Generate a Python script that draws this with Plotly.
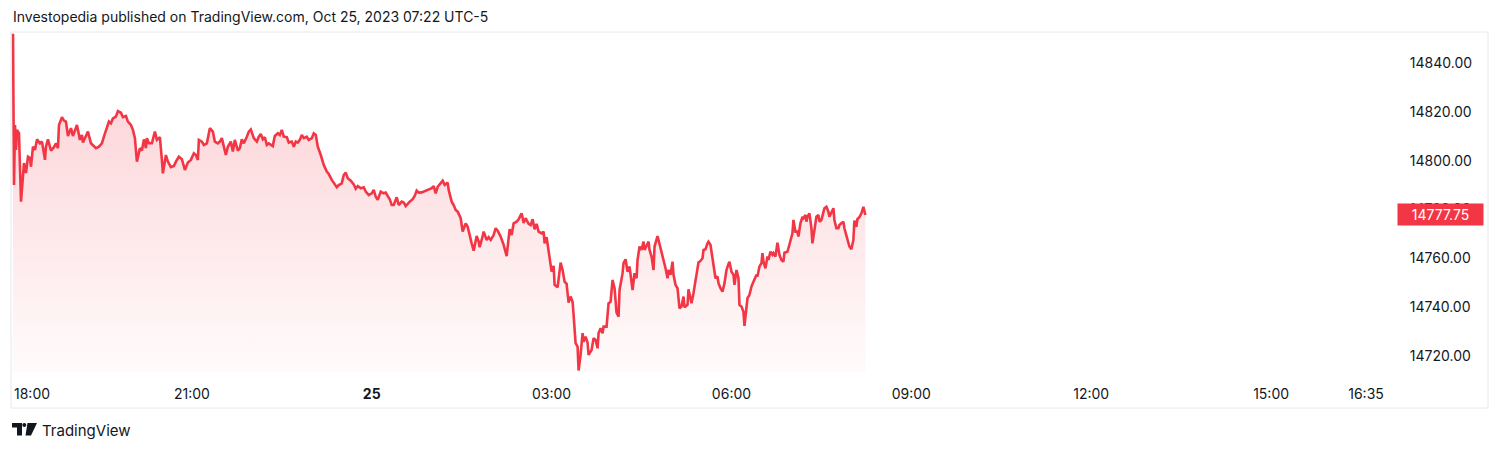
import plotly.graph_objects as go

# ---------------- data (minutes after Oct 24 18:00, price) ----------------
seg1_min = [1, 2, 3, 4, 5, 7, 9, 10, 12, 14,
            16, 18, 19, 21, 23, 25, 28, 30, 33, 34,
            36, 39, 42, 44, 46, 47, 50, 52, 54, 56,
            59, 61, 63, 65, 68, 70, 71, 74, 76, 79,
            81, 84, 87, 90, 92, 95, 97, 99, 101, 104,
            106, 109, 111, 114, 116, 119, 121, 123, 125, 128,
            130, 132, 134, 135, 137, 140, 143, 145, 148, 150,
            151, 154, 156, 159, 162, 164, 167, 170, 173, 176]
seg1_px = [14852.0, 14790.0, 14814.6, 14804.4, 14812.6, 14811.3, 14783.2, 14788.0, 14799.0, 14794.9,
           14801.6, 14801.1, 14797.5, 14805.7, 14804.4, 14808.7, 14807.1, 14807.8, 14800.3, 14805.7,
           14808.7, 14804.1, 14805.5, 14807.1, 14805.1, 14814.6, 14817.8, 14816.4, 14816.0, 14810.1,
           14813.3, 14810.1, 14812.6, 14814.6, 14808.5, 14810.5, 14807.4, 14809.8, 14811.9, 14807.1,
           14806.4, 14805.1, 14805.7, 14807.1, 14809.8, 14813.9, 14816.0, 14815.3, 14817.3, 14818.0,
           14820.3, 14819.6, 14817.8, 14818.3, 14816.0, 14814.6, 14812.6, 14809.2, 14799.6, 14805.1,
           14804.1, 14808.7, 14805.1, 14809.2, 14807.1, 14807.1, 14811.9, 14808.5, 14809.6, 14800.3,
           14794.8, 14802.3, 14799.6, 14797.3, 14797.8, 14799.6, 14801.6, 14800.6, 14796.2, 14799.2]

seg2_min = [179, 182, 184, 186, 187, 190, 192, 195, 197, 198,
            201, 203, 206, 208, 210, 212, 214, 216, 219, 221,
            223, 226, 228, 230, 232, 235, 237, 239, 242, 245,
            247, 249, 251, 253, 255, 257, 261, 263, 266, 268,
            270, 272, 275, 277, 280, 282, 284, 286, 288, 290,
            292, 295, 297, 300, 302, 304, 306, 309, 312, 315,
            317, 320, 322, 325, 327, 330, 332, 334, 336, 339,
            342, 344, 346, 349]
seg2_px = [14800.3, 14803.0, 14802.3, 14800.3, 14808.5, 14807.8, 14806.4, 14807.1, 14810.5, 14813.3,
           14811.9, 14807.8, 14807.1, 14807.8, 14809.2, 14805.7, 14802.3, 14805.7, 14807.8, 14803.7,
           14808.5, 14804.1, 14805.1, 14808.7, 14807.1, 14809.8, 14811.9, 14812.8, 14809.2, 14807.8,
           14809.8, 14810.9, 14808.7, 14809.6, 14806.4, 14807.1, 14806.0, 14810.1, 14811.2, 14810.5,
           14812.6, 14809.8, 14809.6, 14807.4, 14807.8, 14805.7, 14807.8, 14807.4, 14808.5, 14810.5,
           14809.2, 14809.8, 14808.5, 14809.2, 14811.2, 14810.5, 14805.7, 14802.3, 14798.2, 14795.5,
           14794.5, 14792.1, 14791.0, 14789.1, 14790.0, 14790.7, 14794.1, 14795.1, 14792.8, 14791.8,
           14790.2, 14788.5, 14789.6, 14788.7]

seg3_min = [352, 354, 357, 360, 362, 364, 366, 369, 372, 374,
            376, 378, 380, 382, 385, 387, 390, 392, 394, 396,
            398, 401, 403, 405, 407, 410, 412, 415, 417, 420,
            422, 424, 426, 428, 431, 433, 436, 437, 440, 442,
            444, 446, 449, 451, 454, 456, 458, 460, 462, 465,
            467, 468, 471, 472, 475, 477, 479, 482, 484, 486,
            489, 492, 495, 497, 498, 500, 502, 505, 507, 510,
            512, 514, 517, 519]
seg3_px = [14789.1, 14787.3, 14785.9, 14786.6, 14788.0, 14785.2, 14783.9, 14787.3, 14786.6, 14786.9,
           14785.5, 14784.2, 14781.8, 14781.8, 14785.0, 14781.8, 14783.2, 14782.8, 14781.4, 14782.5,
           14783.2, 14784.2, 14785.5, 14787.7, 14786.9, 14787.0, 14787.3, 14787.7, 14788.0, 14788.7,
           14789.6, 14786.6, 14789.3, 14790.4, 14791.8, 14790.0, 14791.0, 14788.0, 14783.2, 14781.8,
           14779.8, 14779.1, 14776.4, 14770.9, 14774.3, 14772.9, 14768.9, 14766.1, 14763.1, 14769.1,
           14766.8, 14764.5, 14769.1, 14770.9, 14767.5, 14768.6, 14767.5, 14769.5, 14772.3, 14771.3,
           14768.9, 14765.5, 14760.9, 14766.8, 14771.9, 14769.5, 14774.3, 14775.0, 14776.0, 14778.4,
           14774.5, 14776.4, 14774.1, 14773.6]

seg4_min = [521, 523, 525, 527, 530, 532, 533, 535, 537, 540,
            542, 543, 546, 547, 549, 551, 553, 555, 557, 559,
            561, 562, 564, 566, 567, 569, 571, 572, 574, 576,
            577, 580, 582, 584, 586, 587, 589, 591, 592, 595,
            597, 599, 601, 603, 605, 607, 608, 611, 612, 614,
            616, 618, 620, 621, 623, 625, 626, 628, 630, 632,
            633, 635, 637, 638, 640, 642, 643, 646, 647, 649,
            651, 652, 654, 656, 657, 659, 661, 662, 664, 666,
            668, 670, 672, 673, 676, 677, 680, 682, 683, 685,
            687, 689]
seg4_px = [14776.0, 14771.9, 14774.1, 14770.9, 14770.2, 14770.9, 14766.1, 14768.6, 14762.1, 14754.5,
           14756.9, 14749.1, 14748.1, 14751.4, 14758.2, 14755.2, 14750.4, 14749.5, 14741.8, 14744.3,
           14742.2, 14736.8, 14725.2, 14723.8, 14714.0, 14720.4, 14729.3, 14725.8, 14727.9, 14725.4,
           14720.4, 14722.4, 14727.2, 14726.5, 14723.1, 14729.3, 14731.3, 14729.3, 14732.0, 14732.0,
           14741.6, 14742.2, 14751.1, 14747.7, 14737.7, 14736.1, 14747.0, 14753.9, 14758.0, 14759.6,
           14754.5, 14756.6, 14750.4, 14747.0, 14753.9, 14751.8, 14759.3, 14764.8, 14763.4, 14766.8,
           14763.4, 14764.8, 14766.8, 14763.4, 14760.7, 14755.2, 14764.8, 14769.1, 14767.5, 14764.8,
           14760.7, 14760.0, 14755.9, 14751.8, 14755.2, 14753.2, 14758.6, 14753.2, 14749.1, 14747.7,
           14739.5, 14740.2, 14744.3, 14739.9, 14740.9, 14747.3, 14741.6, 14745.8, 14748.4, 14754.5,
           14758.3, 14758.9]

seg5_min = [691, 692, 694, 696, 697, 699, 701, 702, 704, 706,
            707, 709, 711, 713, 715, 717, 718, 720, 722, 723,
            725, 727, 728, 730, 732, 733, 735, 736, 738, 740,
            742, 743, 745, 746, 748, 750, 751, 752, 754, 756,
            757, 759, 761, 762, 764, 766, 768, 770, 772, 773,
            776, 777, 779, 781, 782, 784, 786, 787, 789, 791,
            792, 794, 795, 796, 798, 800, 801, 803, 805, 807,
            808, 810, 812, 813, 815, 817, 818, 820, 822, 823,
            825, 827, 828, 830, 832, 833, 835, 837, 838, 840,
            842, 843, 845, 846, 848, 850, 851, 852, 854]
seg5_px = [14760.0, 14763.4, 14763.7, 14766.1, 14766.8, 14765.5, 14759.3, 14756.6, 14751.8, 14752.5,
           14749.8, 14747.7, 14746.3, 14749.8, 14755.2, 14757.7, 14758.6, 14754.5, 14753.2, 14749.1,
           14755.2, 14751.8, 14740.9, 14740.2, 14738.1, 14732.3, 14740.9, 14743.6, 14745.0, 14748.4,
           14750.4, 14751.4, 14753.2, 14752.5, 14756.6, 14758.0, 14762.1, 14758.6, 14755.9, 14760.7,
           14759.3, 14762.7, 14761.4, 14762.1, 14760.7, 14766.4, 14761.4, 14759.3, 14758.6, 14762.3,
           14762.7, 14764.1, 14766.8, 14770.2, 14775.7, 14770.9, 14770.9, 14768.9, 14774.3, 14777.0,
           14776.4, 14777.7, 14775.0, 14777.0, 14778.4, 14772.3, 14766.1, 14771.6, 14777.0, 14777.7,
           14775.0, 14775.7, 14778.4, 14780.5, 14781.1, 14779.1, 14777.0, 14779.1, 14780.5, 14775.7,
           14772.3, 14772.3, 14773.6, 14774.3, 14775.0, 14772.3, 14769.5, 14766.8, 14764.8, 14763.7,
           14767.5, 14775.4, 14772.9, 14776.0, 14776.8, 14778.4, 14780.5, 14781.1, 14777.75]

LAST_PRICE = 14777.75

x_tick_minutes = [180, 360, 540, 720, 900, 1080, 1260, 1355]
x_tick_labels = ["21:00", "<b>25</b>", "03:00", "06:00", "09:00", "12:00", "15:00", "16:35"]
first_label = "18:00"
y_ticks = [14720, 14740, 14760, 14780, 14800, 14820, 14840]

TITLE = "Investopedia published on TradingView.com, Oct 25, 2023 07:22 UTC-5"

# ---------------- assemble ----------------
for a, b in [(seg1_min, seg1_px), (seg2_min, seg2_px), (seg3_min, seg3_px),
             (seg4_min, seg4_px), (seg5_min, seg5_px)]:
    assert len(a) == len(b), (len(a), len(b))

minutes = seg1_min + seg2_min + seg3_min + seg4_min + seg5_min
prices = seg1_px + seg2_px + seg3_px + seg4_px + seg5_px

W, H = 1500, 450
ML, MR, MT, MB = 11, 103, 32, 78
PW, PH = W - ML - MR, H - MT - MB
Y_RANGE = [14713.4, 14852.7]
X_RANGE = [-1, 1386]
FONT = "Inter, Roboto, sans-serif"
TXT = "#131722"
RED = "#F23645"
TICK_SIZE = 14


def px_x(px):
    return (px - ML) / PW


def px_y(py):
    return (H - MB - py) / PH


fig = go.Figure()
fig.add_trace(go.Scatter(
    x=minutes, y=prices, mode="lines",
    line=dict(color=RED, width=2.6),
    fill="tozeroy",
    fillgradient=dict(type="vertical",
                      colorscale=[[0, "rgba(242,54,69,0.02)"], [1, "rgba(242,54,69,0.25)"]],
                      start=Y_RANGE[0], stop=Y_RANGE[1]),
    hoverinfo="skip", showlegend=False,
))

fig.update_layout(
    width=W, height=H,
    margin=dict(l=ML, r=MR, t=MT, b=MB),
    paper_bgcolor="white", plot_bgcolor="white",
    font=dict(family=FONT, size=TICK_SIZE, color=TXT),
    xaxis=dict(range=X_RANGE, tickvals=x_tick_minutes, ticktext=x_tick_labels,
               ticks="outside", ticklen=9, tickcolor="rgba(0,0,0,0)",
               showgrid=False, zeroline=False, showline=False,
               tickfont=dict(family=FONT, size=TICK_SIZE, color=TXT), fixedrange=True),
    yaxis=dict(range=Y_RANGE, side="right", tickvals=y_ticks,
               ticktext=[f"{v:.2f}" for v in y_ticks],
               ticks="outside", ticklen=9, tickcolor="rgba(0,0,0,0)",
               showgrid=False, zeroline=False, showline=False,
               tickfont=dict(family=FONT, size=TICK_SIZE, color=TXT), fixedrange=True),
)

annotations = [
    dict(text=TITLE, xref="paper", yref="paper", x=px_x(11), y=px_y(17),
         xanchor="left", yanchor="middle", showarrow=False,
         font=dict(family=FONT, size=14, color=TXT)),
    dict(text=first_label, xref="paper", yref="paper", x=px_x(12), y=px_y(393),
         xanchor="left", yanchor="middle", showarrow=False,
         font=dict(family=FONT, size=TICK_SIZE, color=TXT)),
    dict(text=f"{LAST_PRICE:.2f}", xref="paper", yref="y", x=1, y=LAST_PRICE,
         xanchor="left", yanchor="middle", showarrow=False,
         bgcolor=RED, width=81, height=17, borderpad=2, align="center",
         font=dict(family=FONT, size=TICK_SIZE, color="white")),
    dict(text="TradingView", xref="paper", yref="paper", x=px_x(40), y=px_y(430),
         xanchor="left", yanchor="middle", showarrow=False,
         font=dict(family=FONT, size=15, color=TXT)),
]
fig.update_layout(annotations=annotations)


def path(points):
    return "M" + " L".join(f"{px_x(a):.5f},{px_y(b):.5f}" for a, b in points) + " Z"


shapes = [
    dict(type="rect", xref="paper", yref="paper", x0=px_x(11), x1=px_x(1488),
         y0=px_y(408), y1=px_y(32), line=dict(color="#E6E8EE", width=1),
         fillcolor="rgba(0,0,0,0)", layer="above"),
    # TradingView logo
    dict(type="path", xref="paper", yref="paper",
         path=path([(12, 423), (22, 423), (22, 435.5), (17, 435.5), (17, 427.5), (12, 427.5)]),
         fillcolor=TXT, line=dict(width=0)),
    dict(type="circle", xref="paper", yref="paper", x0=px_x(22.3), x1=px_x(26.3),
         y0=px_y(427), y1=px_y(423), fillcolor=TXT, line=dict(width=0)),
    dict(type="path", xref="paper", yref="paper",
         path=path([(27.5, 423), (37, 423), (31, 435.5), (25.5, 435.5)]),
         fillcolor=TXT, line=dict(width=0)),
]
fig.update_layout(shapes=shapes)

fig.write_html("out.html", config={"displayModeBar": False},
               post_script="document.body.style.margin='0px';document.body.style.overflow='hidden';")
